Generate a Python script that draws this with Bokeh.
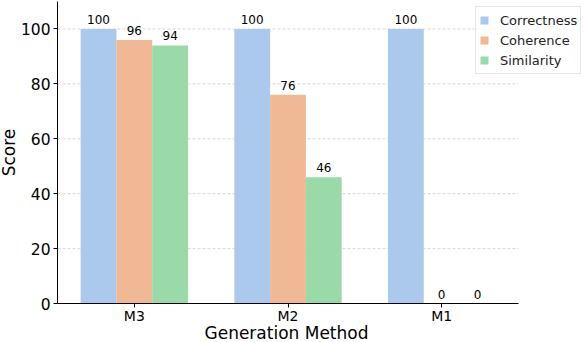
from bokeh.plotting import figure
from bokeh.models import (Range1d, ColumnDataSource, LabelSet, Legend, LegendItem, FixedTicker, Title)
from bokeh.core.properties import value
from bokeh.transform import dodge
from bokeh.embed import file_html
from bokeh.resources import INLINE

methods = ["M3", "M2", "M1"]
correctness = [100, 100, 100]
coherence = [96, 76, 0]
similarity = [94, 46, 0]
series_names = ["Correctness", "Coherence", "Similarity"]
colors = ["#abc9ec", "#f0b894", "#99daa8"]
y_ticks = [0, 20, 40, 60, 80, 100]
x_title = "Generation Method"
y_title = "Score"

FONT = "DejaVu Sans"
BAR_W = 0.233

# layout (pixels)
W, H = 586, 342
LEFT, TOP, BOTTOM = 57, 1, 39
AXIS_RIGHT = 518          # where the x-axis line ends

n = len(methods)
pos = list(range(n))
x_lo = -0.5
x_hi = n - 0.5
px_per_unit = (AXIS_RIGHT - LEFT) / n
x_end = x_lo + (W - LEFT) / px_per_unit

data = dict(pos=pos, method=methods, Correctness=correctness, Coherence=coherence, Similarity=similarity)
for name in series_names:
    data["lab_" + name] = [str(v) for v in data[name]]
src = ColumnDataSource(data)

p = figure(width=W, height=H,
           x_range=Range1d(x_lo, x_end), y_range=Range1d(0, 110),
           output_backend="svg", toolbar_location=None,
           min_border_left=LEFT, min_border_right=0, min_border_top=TOP, min_border_bottom=BOTTOM)

p.outline_line_color = None
p.xgrid.visible = False
p.ygrid.visible = False

# horizontal dashed grid lines, only across the axis extent
p.segment(x0=[x_lo] * len(y_ticks), x1=[x_hi] * len(y_ticks), y0=y_ticks, y1=y_ticks,
          line_color="#cccccc", line_alpha=0.8, line_dash="3 2", line_width=1, level="underlay")

p.xaxis.ticker = FixedTicker(ticks=pos)
p.xaxis.major_label_overrides = {i: m for i, m in zip(pos, methods)}
p.xaxis.bounds = (x_lo, x_hi)
p.yaxis.ticker = FixedTicker(ticks=y_ticks)
for ax in (p.xaxis[0], p.yaxis[0]):
    ax.axis_line_color = "black"
    ax.axis_line_width = 1
    ax.major_tick_line_color = "black"
    ax.major_tick_out = 4
    ax.major_tick_in = 0
    ax.minor_tick_line_color = None
    ax.major_label_text_font = FONT
    ax.major_label_text_color = "black"
p.yaxis.major_label_text_font_size = "15.5px"
p.xaxis.major_label_text_font_size = "14px"
p.yaxis.major_label_standoff = 3
p.xaxis.major_label_standoff = 0

# axis titles as panel titles (allows tighter placement than axis labels)
p.add_layout(Title(text=x_title, align="left", offset=147, vertical_align="top", standoff=-8,
                   text_font=FONT, text_font_size="17px", text_font_style="normal",
                   text_color="black"), "below")
p.add_layout(Title(text=y_title, align="center", vertical_align="top", standoff=-6,
                   text_font=FONT, text_font_size="17px", text_font_style="normal",
                   text_color="black"), "left")

renderers = []
offsets = [-BAR_W, 0.0, BAR_W]
for name, col, off in zip(series_names, colors, offsets):
    r = p.vbar(x=dodge("pos", off), top=name, width=BAR_W,
               source=src, fill_color=col, line_color=None)
    renderers.append(r)
    p.add_layout(LabelSet(x=dodge("pos", off), y=name, text="lab_" + name,
                          source=src, text_align="center", text_baseline="alphabetic",
                          y_offset=5, text_font=value(FONT), text_font_size="12px",
                          text_color="black"))

legend = Legend(items=[LegendItem(label=s, renderers=[r]) for s, r in zip(series_names, renderers)],
                location=(418, 229), margin=0, padding=3, spacing=0,
                glyph_width=10, glyph_height=10, label_height=20, label_standoff=11,
                label_text_font=FONT, label_text_font_size="13px", label_text_color="#222222",
                border_line_color="#cccccc", border_line_width=1,
                background_fill_color="white", background_fill_alpha=0.8)
p.add_layout(legend, "center")

open("out.html", "w").write(file_html(p, INLINE))
